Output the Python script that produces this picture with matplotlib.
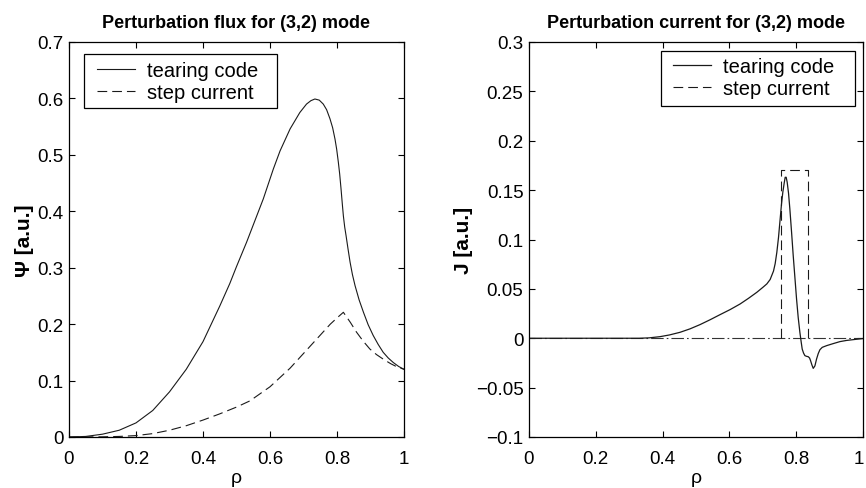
import matplotlib
matplotlib.use("Agg")
import matplotlib.pyplot as plt
from matplotlib.patches import Rectangle
from matplotlib.transforms import ScaledTranslation

plt.rcParams['font.family'] = ['Liberation Sans', 'DejaVu Sans']
plt.rcParams['lines.scale_dashes'] = False

# ---- Left panel: perturbation flux ----
flux_rho = [0, 0.05, 0.1, 0.15, 0.2, 0.25, 0.3, 0.35, 0.4, 0.45, 0.48, 0.5, 0.53, 0.58,
            0.61, 0.63, 0.66, 0.689, 0.709, 0.722, 0.734, 0.747, 0.759, 0.769, 0.779,
            0.787, 0.794, 0.799, 0.804, 0.808, 0.812, 0.816, 0.819, 0.823, 0.827, 0.833,
            0.839, 0.846, 0.854, 0.866, 0.879, 0.893, 0.908, 0.923, 0.938, 0.953, 0.968,
            0.984, 1.0]
flux_tearing = [0, 0.001, 0.005, 0.012, 0.025, 0.047, 0.08, 0.12, 0.169, 0.232, 0.272,
                0.302, 0.345, 0.422, 0.475, 0.507, 0.546, 0.575, 0.590, 0.596, 0.599, 0.597,
                0.590, 0.580, 0.564, 0.548, 0.528, 0.51, 0.487, 0.466, 0.44, 0.412, 0.392,
                0.372, 0.357, 0.333, 0.310, 0.288, 0.268, 0.243, 0.221, 0.199, 0.180, 0.164,
                0.150, 0.140, 0.132, 0.125, 0.12]

step_flux_rho = [0, 0.1, 0.15, 0.2, 0.25, 0.3, 0.35, 0.4, 0.45, 0.5, 0.54, 0.6, 0.66, 0.72,
                 0.78, 0.8, 0.819, 0.84, 0.858, 0.878, 0.898, 0.918, 0.938, 0.96, 0.98, 1.0]
step_flux = [0, 0.0003, 0.001, 0.0025, 0.006, 0.012, 0.02, 0.03, 0.041, 0.053, 0.064, 0.089,
             0.122, 0.161, 0.2, 0.211, 0.221, 0.203, 0.186, 0.17, 0.156, 0.146, 0.138, 0.13,
             0.124, 0.12]

# ---- Right panel: perturbation current ----
cur_rho = [0, 0.33, 0.36, 0.392, 0.42, 0.452, 0.482, 0.512, 0.542, 0.572, 0.602, 0.632,
           0.657, 0.682, 0.70, 0.712, 0.722, 0.732, 0.737, 0.742, 0.747, 0.752, 0.756, 0.760,
           0.764, 0.767, 0.770, 0.773, 0.777, 0.781, 0.786, 0.791, 0.796, 0.801, 0.806, 0.811,
           0.815, 0.818, 0.822, 0.826, 0.831, 0.836, 0.840, 0.843, 0.847, 0.851, 0.856, 0.861,
           0.866, 0.871, 0.878, 0.891, 0.91, 0.931, 0.951, 0.971, 1.0]
cur_tearing = [0, 0, 0.0004, 0.0016, 0.0033, 0.006, 0.0095, 0.0138, 0.0187, 0.0239, 0.029,
               0.0347, 0.0404, 0.0465, 0.0515, 0.055, 0.0595, 0.068, 0.0755, 0.087, 0.102,
               0.121, 0.136, 0.148, 0.157, 0.163, 0.163, 0.158, 0.147, 0.131, 0.108, 0.084,
               0.062, 0.040, 0.021, 0.006, -0.004, -0.011, -0.015, -0.0176, -0.0183, -0.0187,
               -0.020, -0.0227, -0.027, -0.0305, -0.028, -0.021, -0.0155, -0.0116, -0.0092,
               -0.0075, -0.0055, -0.0034, -0.0022, -0.0014, -0.0003]

step_cur_rho = [0.7535, 0.7535, 0.834, 0.834]
step_cur = [0, 0.17, 0.17, 0]

zero_rho = [0, 1]
zero_val = [0, 0]

left_yticks = [0, 0.1, 0.2, 0.3, 0.4, 0.5, 0.6, 0.7]
left_yticklabels = ['0', '0.1', '0.2', '0.3', '0.4', '0.5', '0.6', '0.7']
right_yticks = [-0.1, -0.05, 0, 0.05, 0.1, 0.15, 0.2, 0.25, 0.3]
right_yticklabels = ['\u22120.1', '\u22120.05', '0', '0.05', '0.1', '0.15', '0.2', '0.25', '0.3']
xticks = [0, 0.2, 0.4, 0.6, 0.8, 1]
xticklabels = ['0', '0.2', '0.4', '0.6', '0.8', '1']

fig = plt.figure(figsize=(8.66, 4.89), dpi=100)
ax1 = fig.add_axes([69/866, 1-438/489, (404-69)/866, (438-43)/489])
ax2 = fig.add_axes([529/866, 1-438/489, (863-529)/866, (438-43)/489])

dash = (0, (7, 3.6))

ax1.plot(flux_rho, flux_tearing, color='#1a1a1a', lw=0.8, label='tearing code')
ax1.plot(step_flux_rho, step_flux, color='#1a1a1a', lw=0.8, linestyle=dash, label='step current')

ax2.plot(zero_rho, zero_val, color='#333333', lw=0.8, linestyle=(0, (9, 2.2, 1.2, 2.2)))
ax2.plot(cur_rho, cur_tearing, color='#1a1a1a', lw=0.9, label='tearing code')
ax2.plot(step_cur_rho, step_cur, color='#1a1a1a', lw=0.8, linestyle=dash, label='step current')

for ax, yt, ytl, ylim in [(ax1, left_yticks, left_yticklabels, (0, 0.7)),
                          (ax2, right_yticks, right_yticklabels, (-0.1, 0.3))]:
    ax.set_xlim(0, 1)
    ax.set_ylim(*ylim)
    ax.set_xticks(xticks)
    ax.set_xticklabels(xticklabels)
    ax.set_yticks(yt)
    ax.set_yticklabels(ytl)
    ax.tick_params(direction='in', top=True, right=True, length=4, width=0.8,
                   labelsize=13.5)
    ax.tick_params(axis='x', pad=9)
    ax.tick_params(axis='y', pad=4)
    for s in ax.spines.values():
        s.set_linewidth(0.9)
    ax.set_xlabel('ρ', fontsize=14, labelpad=2)

# keep the last x tick label of the right panel inside the figure
last = ax2.get_xticklabels()[-1]
last.set_transform(last.get_transform() + ScaledTranslation(-0.045, 0, fig.dpi_scale_trans))

ax1.set_title('Perturbation flux for (3,2) mode', fontsize=13, fontweight='bold', pad=11)
ax2.set_title('Perturbation current for (3,2) mode', fontsize=13, fontweight='bold', pad=11)
ax1.set_ylabel('Ψ [a.u.]', fontsize=15, fontweight='bold', labelpad=2)
ax2.set_ylabel('J [a.u.]', fontsize=15, fontweight='bold', labelpad=2)

leg_kw = dict(fontsize=14.5, frameon=False, handlelength=1.9, borderpad=0,
              labelspacing=0.15, handletextpad=0.6, borderaxespad=0)
ax1.legend(loc='upper left', bbox_to_anchor=(0.0836, 0.953), **leg_kw)
ax2.legend(loc='upper left', bbox_to_anchor=(0.431, 0.963), **leg_kw)

# legend frames (MATLAB-style, wider right padding)
ax1.add_patch(Rectangle((0.0448, 0.833), 0.576, 0.137, transform=ax1.transAxes,
                        fill=False, edgecolor='black', lw=0.9, zorder=5))
ax2.add_patch(Rectangle((0.395, 0.838), 0.581, 0.139, transform=ax2.transAxes,
                        fill=False, edgecolor='black', lw=0.9, zorder=5))

fig.savefig('out.png', dpi=100)
